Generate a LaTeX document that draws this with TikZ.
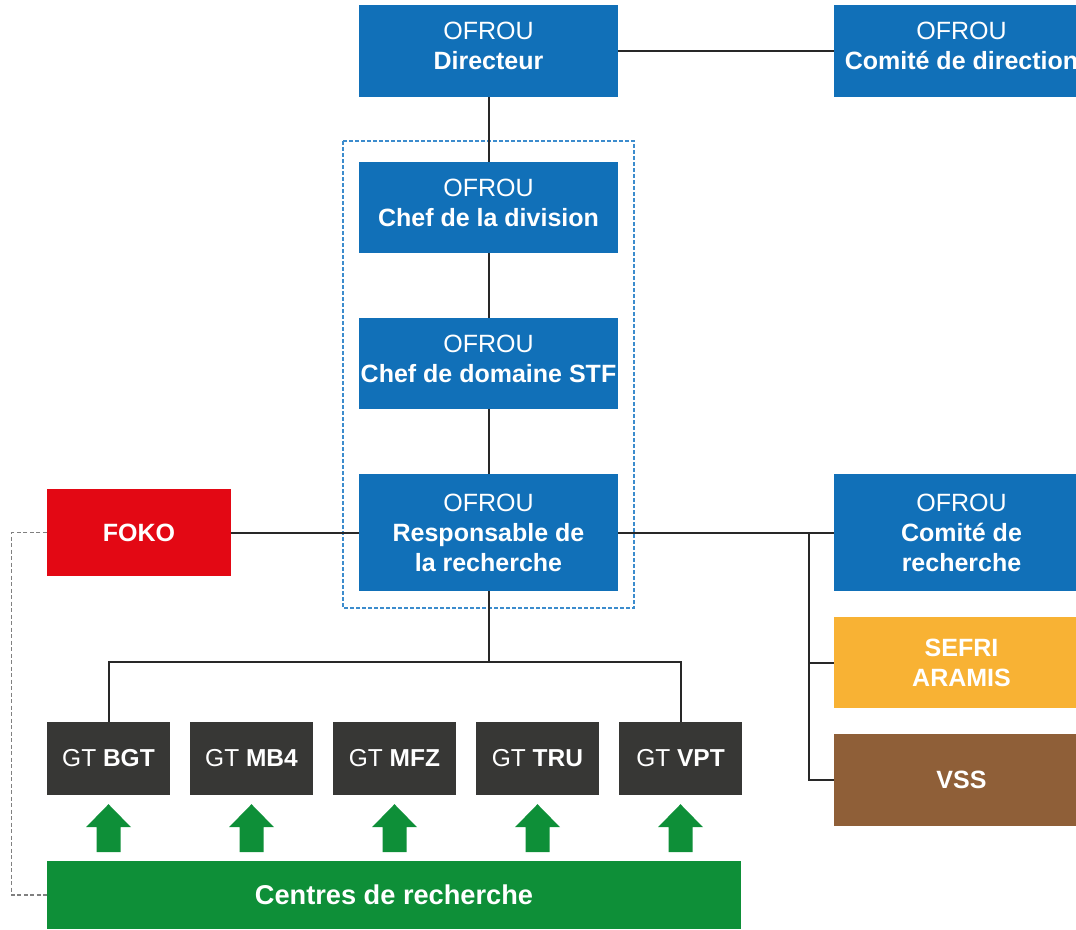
\documentclass[tikz,border=0pt]{standalone}
\usepackage{fontspec}
\setmainfont{Liberation Sans}
\definecolor{ofblue}{RGB}{17,112,184}
\definecolor{dashblue}{RGB}{60,140,205}
\definecolor{fokored}{RGB}{227,8,20}
\definecolor{sefriorange}{RGB}{248,178,52}
\definecolor{vssbrown}{RGB}{143,95,56}
\definecolor{gtgray}{RGB}{55,55,53}
\definecolor{cgreen}{RGB}{14,143,56}
\definecolor{linegray}{RGB}{40,40,40}
\newcommand{\lift}{\rule[-10pt]{0pt}{0pt}}
\tikzset{
  box/.style={rectangle, inner sep=0pt, text=white, align=center,
    font=\fontsize{25}{30}\selectfont},
  bluebox/.style={box, fill=ofblue, minimum width=259, minimum height=92},
  rightbox/.style={box, minimum width=255, minimum height=92},
  gtbox/.style={box, fill=gtgray, minimum width=123, minimum height=73,
    font=\fontsize{24.5}{30}\selectfont},
  conn/.style={draw=linegray, line width=2pt},
  grayconn/.style={draw=gray, line width=1.3pt, dash pattern=on 4pt off 2.5pt},
  greenarrow/.style={fill=cgreen}
}
\begin{document}
\begin{tikzpicture}[x=1pt,y=-1pt]
\useasboundingbox (0,0) rectangle (1076,929);
% dashed group frame
\draw[dashblue, line width=1.5pt, dash pattern=on 4pt off 2pt] (343,141) rectangle (634,608);
% boxes
\node[bluebox] (dir) at (488.5,51) {OFROU\\\textbf{Directeur}\lift};
\node[rightbox, fill=ofblue] (cdir) at (961.5,51) {OFROU\\\textbf{Comité de direction}\lift};
\node[bluebox, minimum height=91] (chef) at (488.5,207.5) {OFROU\\\textbf{Chef de la division}\lift};
\node[bluebox, minimum height=91] (stf) at (488.5,363.5) {OFROU\\\textbf{Chef de domaine STF}\lift};
\node[bluebox, minimum height=117] (resp) at (488.5,532.5) {OFROU\\\textbf{Responsable de}\\\textbf{la recherche}};
\node[box, fill=fokored, minimum width=184, minimum height=87] (foko) at (139,532.5) {\textbf{FOKO}};
\node[rightbox, fill=ofblue, minimum height=117] (crech) at (961.5,532.5) {OFROU\\\textbf{Comité de}\\\textbf{recherche}};
\node[rightbox, fill=sefriorange, minimum height=91] (sefri) at (961.5,662.5) {\textbf{SEFRI}\\\textbf{ARAMIS}};
\node[rightbox, fill=vssbrown] (vss) at (961.5,780) {\textbf{VSS}};
\node[gtbox] (gt1) at (108.5,758.5) {GT \textbf{BGT}};
\node[gtbox] (gt2) at (251.5,758.5) {GT \textbf{MB4}};
\node[gtbox] (gt3) at (394.5,758.5) {GT \textbf{MFZ}};
\node[gtbox] (gt4) at (537.5,758.5) {GT \textbf{TRU}};
\node[gtbox] (gt5) at (680.5,758.5) {GT \textbf{VPT}};
\node[box, fill=cgreen, minimum width=694, minimum height=68, font=\fontsize{27.2}{32}\selectfont] (centres) at (394,895) {\textbf{Centres de recherche}};
% connectors
\coordinate (bus) at (809,0);
\draw[conn] (dir.east) -- (cdir.west);
\draw[conn] (dir.south) -- (chef.north);
\draw[conn] (chef.south) -- (stf.north);
\draw[conn] (stf.south) -- (resp.north);
\draw[conn] (foko.east) -- (resp.west);
\draw[conn] (resp.east) -- (crech.west);
\draw[conn] (bus |- resp.east) |- (sefri.west);
\draw[conn] (bus |- resp.east) |- (vss.west);
\draw[conn] (resp.south) -- ++(0,71) -| (gt1.north);
\draw[conn] (resp.south) -- ++(0,71) -| (gt5.north);
\draw[grayconn] (foko.west) -- ++(-35,0) |- (centres.west);
% green arrows
\foreach \i in {1,...,5}{
  \fill[greenarrow] (gt\i.south) ++(0,9) -- ++(22.5,23) -- ++(-10.5,0) -- ++(0,25)
    -- ++(-24,0) -- ++(0,-25) -- ++(-10.5,0) -- cycle;
}
\end{tikzpicture}
\end{document}
